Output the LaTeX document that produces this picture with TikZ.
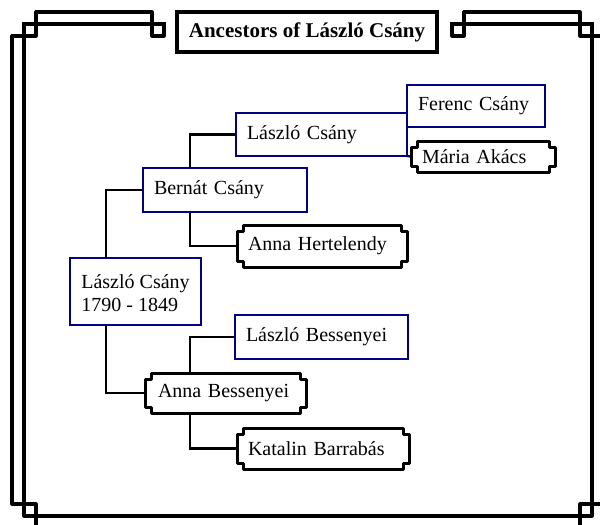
\documentclass[tikz,border=0pt]{standalone}
\usepackage{fontspec}
\setmainfont{Liberation Serif}
\usetikzlibrary{backgrounds}
\definecolor{boxnavy}{RGB}{0,0,128}
\tikzset{
  every node/.style={outer sep=0pt, inner ysep=2pt, font=\fontsize{20}{23}\selectfont},
  person/.style={anchor=north west, inner xsep=11pt, align=left},
  navybox/.style={person, draw=boxnavy, line width=2.4pt, fill=white},
  plaquebox/.style={person},
  plaqueline/.style={draw=black, fill=white, line width=3pt, line join=round},
  link/.style={draw=black, line width=2.4pt, line cap=rect},
  tie/.style={draw=boxnavy, line width=2.4pt},
  frameline/.style={draw=black, line width=3.2pt, line join=round, line cap=rect},
  titlebox/.style={draw=black, line width=3.4pt, fill=white, font=\fontsize{21}{24}\selectfont\bfseries}
}
\begin{document}
\begin{tikzpicture}[x=1pt,y=-1pt]
\useasboundingbox (0,0) rectangle (600,525);

% ---- ornamental frame ----
\draw[frameline] (24,24) -- (164,24);
\draw[frameline] (452,24) -- (592,24);
\draw[frameline] (24,24) -- (24,516) -- (592,516) -- (592,24);
% corner ornaments and outer rules
\draw[frameline] (164,24) -- (164,36) -- (152,36) -- (152,12) -- (36,12) -- (36,36) -- (12,36)
  -- (12,504) -- (36,504) -- (36,528) -- (580,528) -- (580,504) -- (604,504)
  -- (604,36) -- (580,36) -- (580,12) -- (464,12) -- (464,36) -- (452,36) -- (452,24);

% ---- title ----
\node[titlebox, minimum width=260, minimum height=40] (title) at (307,32) {Ancestors of László Csány};

% ---- people ----
\node[navybox, minimum width=131, minimum height=67] (root) at (70,258)
  {\rule{0pt}{17pt}László Csány\\1790 - 1849};
\node[navybox, minimum width=164, minimum height=44, text width=142] (bernat) at (143,168) {Bernát Csány};
\node[navybox, minimum width=171, minimum height=43, text width=149] (laszlo) at (236,113) {László Csány};
\node[navybox, minimum width=138, minimum height=42, text width=116] (ferenc) at (407,85) {Ferenc Csány};
\node[plaquebox, minimum width=144, minimum height=31, text width=122] (maria) at (411,141) {Mária Akács};
\node[plaquebox, minimum width=170, minimum height=42, text width=148] (hertel) at (237,225) {Anna Hertelendy};
\node[navybox, minimum width=173, minimum height=44, text width=151] (lbess) at (235,315) {László Bessenyei};
\node[plaquebox, minimum width=161, minimum height=40, text width=135, inner xsep=13pt] (abess) at (145,373) {Anna Bessenyei};
\node[plaquebox, minimum width=172, minimum height=41, text width=150] (katalin) at (237,428) {Katalin Barrabás};

\begin{pgfonlayer}{background}
  % connectors
  \draw[link] (root.north -| 106,0) |- (bernat.west);
  \draw[link] (root.south -| 106,0) |- (abess.west);
  \draw[link] (bernat.north -| 190,0) |- (laszlo.west);
  \draw[link] (bernat.south -| 190,0) |- (hertel.west);
  \draw[link] (abess.north -| 190,0) |- (lbess.west);
  \draw[link] (abess.south -| 190,0) |- (katalin.west);
  \draw[tie] (laszlo.north east) -- (ferenc.west);
  \draw[tie] (laszlo.south east) -- (maria.west);
  % plaque outlines with notched corners
  \foreach \n in {maria,hertel,abess,katalin}{
    \draw[plaqueline]
      ([shift={(6,0)}]\n.north west) -- ([shift={(-6,0)}]\n.north east)
      -- ([shift={(-6,6)}]\n.north east) -- ([shift={(0,6)}]\n.north east)
      -- ([shift={(0,-6)}]\n.south east) -- ([shift={(-6,-6)}]\n.south east)
      -- ([shift={(-6,0)}]\n.south east) -- ([shift={(6,0)}]\n.south west)
      -- ([shift={(6,-6)}]\n.south west) -- ([shift={(0,-6)}]\n.south west)
      -- ([shift={(0,6)}]\n.north west) -- ([shift={(6,6)}]\n.north west) -- cycle;
  }
\end{pgfonlayer}
\end{tikzpicture}
\end{document}
